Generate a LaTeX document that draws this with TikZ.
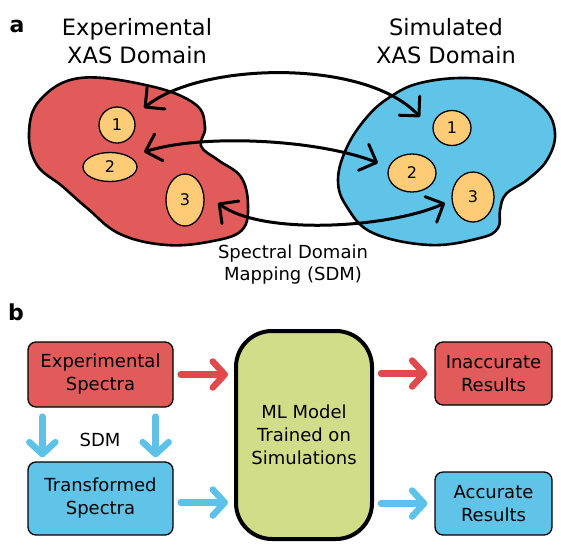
\documentclass[tikz,border=0pt]{standalone}
\usepackage{fontspec}
\setmainfont{DejaVu Sans}
\usetikzlibrary{arrows.meta,shapes.geometric,calc}
\definecolor{redf}{HTML}{E15B5B}
\definecolor{bluef}{HTML}{60C3E8}
\definecolor{greenf}{HTML}{D2DD89}
\definecolor{orangef}{HTML}{FECC76}
\definecolor{reda}{HTML}{E04A4C}
\definecolor{bluea}{HTML}{5EC2E8}
\tikzset{
  blob/.style={draw=black, line width=2.6pt, line join=round},
  numell/.style={ellipse, draw=black, line width=1.3pt, fill=orangef, inner sep=0pt, font=\fontsize{16}{18}\selectfont},
  maparrow/.style={line width=3pt, {Straight Barb[length=14pt,width=28pt,round]}-{Straight Barb[length=14pt,width=28pt,round]}},
  boxnode/.style={draw=black, line width=1.3pt, rounded corners=8pt, inner sep=0pt, align=center, font=\fontsize{18}{23}\selectfont},
  flowarrow/.style={line width=6.5pt, line cap=round, -{Straight Barb[length=12pt,width=26pt,round]}},
  title/.style={align=center, font=\fontsize{22.5}{28}\selectfont},
  lbl/.style={align=center, font=\fontsize{18}{22}\selectfont},
  panel/.style={font=\bfseries\fontsize{22}{24}\selectfont}
}
\begin{document}
\begin{tikzpicture}[x=1pt,y=-1pt]
\useasboundingbox (0,0) rectangle (561,552);
% panel labels
\node[panel] (pa) at (17,26) {a};
\node[panel] (pb) at (16,312) {b};
% titles
\node[title] (texp) at (137,41) {Experimental\\XAS Domain};
\node[title] (tsim) at (446,41) {Simulated\\XAS Domain};
% blobs
\draw[blob, fill=redf] plot[smooth cycle, tension=0.65] coordinates {
  (29,133) (40,100) (80,78) (150,86) (195,104) (205,127) (201,146)
  (218,160) (241,177) (248,205) (242,230) (213,241) (167,245)
  (120,234) (87,208) (62,186) (37,165)};
\draw[blob, fill=bluef] plot[smooth cycle, tension=0.65] coordinates {
  (420,83) (467,78) (507,85) (543,107) (555,133) (547,160) (527,180)
  (506,194) (500,210) (498,228) (480,238) (430,245) (373,233)
  (347,207) (338,180) (347,147) (367,117) (390,97)};
% ellipses
\node[numell, minimum width=36pt, minimum height=36pt] (r1) at (117,125) {1};
\node[numell, minimum width=54pt, minimum height=29pt] (r2) at (110,167) {2};
\node[numell, minimum width=38pt, minimum height=52pt] (r3) at (185,200) {3};
\node[numell, minimum width=38pt, minimum height=35pt] (b1) at (452,128) {1};
\node[numell, minimum width=48pt, minimum height=38pt] (b2) at (412,173) {2};
\node[numell, minimum width=42pt, minimum height=50pt] (b3) at (473,197) {3};
% arrow ends
\coordinate (ra1) at (144,108);
\coordinate (ba1) at (420,117);
\coordinate (ra2) at (144,152);
\coordinate (ba2) at (378,163);
\coordinate (ra3) at (218,203);
\coordinate (ba3) at (445,203);
\draw[maparrow] (ra1) .. controls (200,62) and (365,58) .. (ba1);
\draw[maparrow] (ra2) .. controls (205,133) and (320,140) .. (ba2);
\draw[maparrow] (ra3) .. controls (262,236) and (390,228) .. (ba3);
\node[lbl] (sdm) at (293,265) {Spectral Domain\\Mapping (SDM)};
% panel b
\node[boxnode, fill=redf, minimum width=145pt, minimum height=65pt] (exp) at (100.5,374.5) {Experimental\\Spectra};
\node[boxnode, fill=bluef, minimum width=145pt, minimum height=73pt] (trn) at (100.5,498.5) {Transformed\\Spectra};
\node[boxnode, fill=greenf, line width=4pt, rounded corners=36pt, minimum width=136pt, minimum height=208pt] (ml) at (304,435) {ML Model\\Trained on\\Simulations};
\node[boxnode, fill=redf, minimum width=117pt, minimum height=63pt] (ina) at (493.5,373.5) {Inaccurate\\Results};
\node[boxnode, fill=bluef, minimum width=117pt, minimum height=63pt] (acc) at (493.5,503.5) {Accurate\\Results};
\node[lbl] (sdmb) at (100,440) {SDM};
\draw[flowarrow, reda] ([xshift=7pt]exp.east) -- ([xshift=-6pt]exp.east -| ml.west);
\draw[flowarrow, bluea] ([xshift=7pt,yshift=-4pt]trn.east) -- ([xshift=-6pt,yshift=-4pt]trn.east -| ml.west);
\draw[flowarrow, reda] ([xshift=7pt]ina.west -| ml.east) -- ([xshift=-7pt]ina.west);
\draw[flowarrow, bluea] ([xshift=7pt]acc.west -| ml.east) -- ([xshift=-7pt]acc.west);
\draw[flowarrow, bluea] ($(exp.south west)+(15,9)$) -- ($(trn.north west)+(15,-4)$);
\draw[flowarrow, bluea] ($(exp.south east)+(-18,9)$) -- ($(trn.north east)+(-18,-4)$);
\end{tikzpicture}
\end{document}
